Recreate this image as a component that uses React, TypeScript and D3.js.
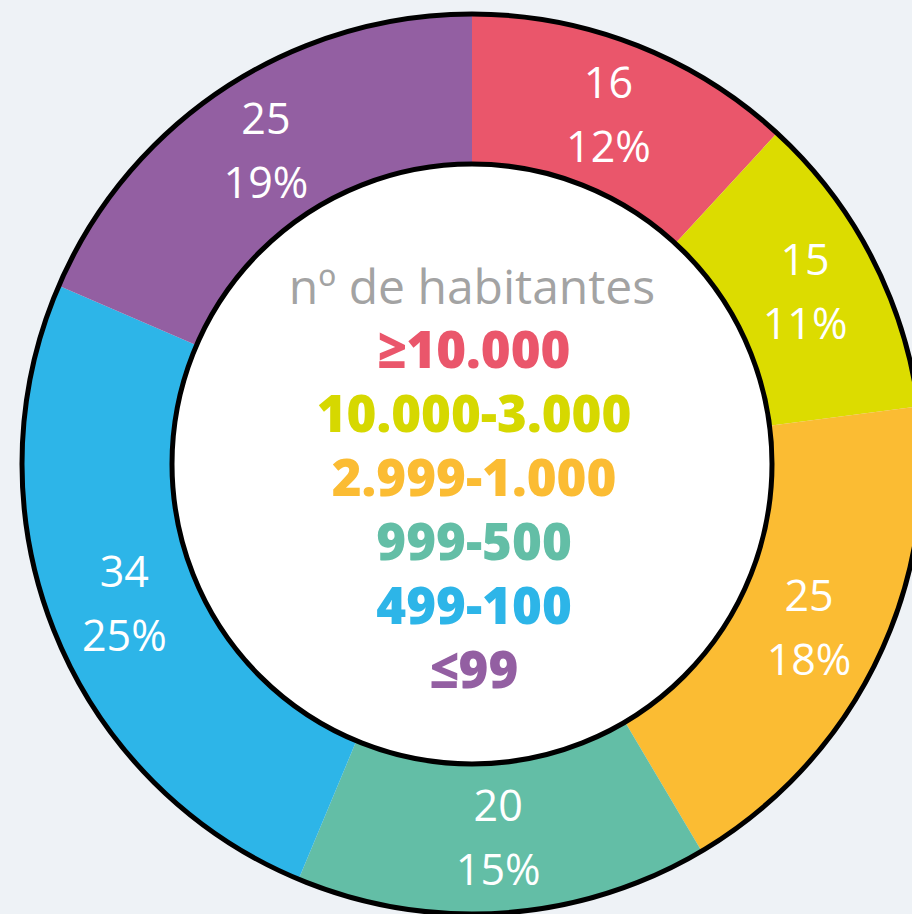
import * as d3 from "d3";

// segment data, clockwise from 12 o'clock
const categories = ["≥10.000", "10.000-3.000", "2.999-1.000", "999-500", "499-100", "≤99"];
const counts = [16, 15, 25, 20, 34, 25];
const percentLabels = ["12%", "11%", "18%", "15%", "25%", "19%"];
const colors = ["#ea566b", "#dcdc00", "#fbbc33", "#63bea6", "#2db5e8", "#935fa2"];
const legendColors = ["#ea566b", "#d6d800", "#fbbc33", "#63bea6", "#2db5e8", "#935fa2"];
const legendTitle = "nº de habitantes";

const W = 912;
const H = 914;
const cx = 472;
const cy = 464;
const outerR = 450;
const innerR = 300;

const App: React.FC = () => {
  const pie = d3
    .pie<number>()
    .sort(null)
    .value((d) => d);
  const arcs = pie(counts);

  const arc = d3.arc<d3.PieArcDatum<number>>().innerRadius(innerR).outerRadius(outerR);
  const labelArc = d3
    .arc<d3.PieArcDatum<number>>()
    .innerRadius(375)
    .outerRadius(375);

  return (
    <svg
      width={W}
      height={H}
      style={{ position: "absolute", left: 0, top: 0, background: "#eef2f6" }}
    >
      <g transform={`translate(${cx},${cy})`}>
        {arcs.map((a, i) => (
          <path key={i} d={arc(a) ?? ""} fill={colors[i]} />
        ))}
        <circle r={outerR} fill="none" stroke="#000" strokeWidth={5} />
        <circle r={innerR} fill="#fff" stroke="#000" strokeWidth={5} />

        {/* value + percentage labels */}
        {arcs.map((a, i) => {
          const [x, y] = labelArc.centroid(a);
          return (
            <text
              key={i}
              x={x}
              y={y}
              textAnchor="middle"
              fill="#fff"
              fontFamily="'Open Sans', 'Noto Sans', sans-serif"
              fontSize={43}
            >
              <tspan x={x} dy={-17}>
                {counts[i]}
              </tspan>
              <tspan x={x} dy={64}>
                {percentLabels[i]}
              </tspan>
            </text>
          );
        })}

        {/* legend in the hole */}
        <text
          x={0}
          y={304 - cy}
          textAnchor="middle"
          fill="#a3a3a3"
          fontFamily="'Open Sans', 'Noto Sans', sans-serif"
          fontSize={48}
        >
          {legendTitle}
        </text>
        {categories.map((c, i) => (
          <text
            key={c}
            x={2}
            y={368 - cy + i * 64}
            textAnchor="middle"
            fill={legendColors[i]}
            fontFamily="'Open Sans', 'Noto Sans', sans-serif"
            fontWeight={800}
            fontSize={51}
          >
            {c}
          </text>
        ))}
      </g>
    </svg>
  );
};

export default App;
